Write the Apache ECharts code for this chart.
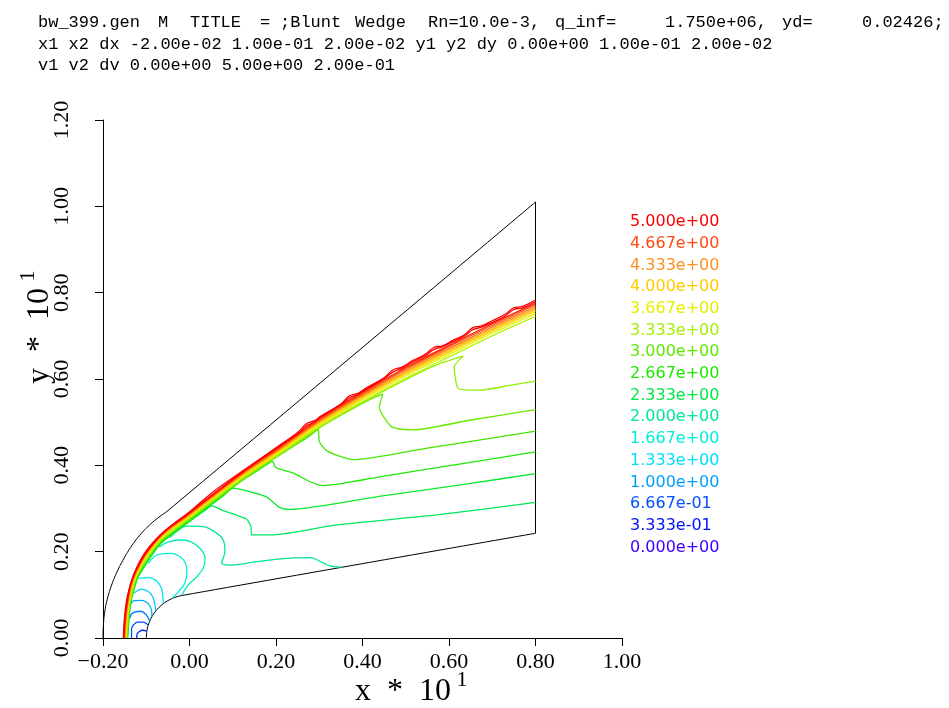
<!DOCTYPE html>
<html><head><meta charset="utf-8">
<script src="https://cdn.jsdelivr.net/npm/echarts/dist/echarts.min.js"></script>
<style>html,body{margin:0;padding:0;background:#fff;}#c{width:949px;height:708px;}</style>
</head><body><div id="c"></div>
<script>
// ---------- header text ----------
const titleLine1 = [['bw_399.gen',38],['M',158],['TITLE',190],['=',260],[';Blunt',280],['Wedge',355],['Rn=10.0e-3,',428],['q_inf=',555],['1.750e+06,',665],['yd=',782],['0.02426;',862]];
const titleLine2 = 'x1 x2 dx -2.00e-02 1.00e-01 2.00e-02 y1 y2 dy 0.00e+00 1.00e-01 2.00e-02';
const titleLine3 = 'v1 v2 dv 0.00e+00 5.00e+00 2.00e-01';

// ---------- legend (levels, top to bottom) ----------
const legendLabels = ['5.000e+00','4.667e+00','4.333e+00','4.000e+00','3.667e+00','3.333e+00','3.000e+00','2.667e+00','2.333e+00','2.000e+00','1.667e+00','1.333e+00','1.000e+00','6.667e-01','3.333e-01','0.000e+00'];
const legendColors = ['#ff0000','#ff4a10','#ff9020','#ffcc00','#e4f000','#a4f000','#60e800','#20e800','#00e848','#00e898','#00f0d8','#00e0f8','#00a0ff','#0050ff','#0010ff','#4000ff'];

// ---------- geometry (x*10, y*10) ----------
const outerBoundary = [[-0.2,0],[-0.199,0.03],[-0.196,0.06],[-0.19,0.09],[-0.181,0.12],[-0.169,0.15],[-0.154,0.18],[-0.136,0.21],[-0.115,0.238],[-0.092,0.262],[-0.068,0.282],[-0.05,0.295],[0.8,1.01]];
const exitBoundary = [[0.8,1.01],[0.8,0.2426]];
const bodySurface = [[0.8,0.2426],[-0.0174,0.0985],[-0.0342,0.094],[-0.05,0.0866],[-0.0643,0.0766],[-0.0766,0.0643],[-0.0866,0.05],[-0.094,0.0342],[-0.0985,0.0174],[-0.1,0]];

// ---------- contour lines ----------
const c50 = [[-0.153,0],[-0.150,0.05],[-0.143,0.10],[-0.128,0.15],[-0.105,0.195],[-0.075,0.232],[-0.040,0.262],[0.0,0.292],[0.05,0.335],[0.12,0.385],[0.209,0.447],[0.25,0.476],[0.27,0.496],[0.29,0.504],[0.302,0.513],[0.35,0.542],[0.37,0.561],[0.39,0.567],[0.41,0.58],[0.45,0.603],[0.47,0.621],[0.49,0.627],[0.517,0.643],[0.545,0.657],[0.565,0.673],[0.585,0.677],[0.61,0.69],[0.635,0.702],[0.655,0.719],[0.675,0.723],[0.70,0.735],[0.73,0.75],[0.75,0.765],[0.77,0.768],[0.8,0.783]];
const c48 = [[-0.152,0],[-0.145,0.08],[-0.127,0.15],[-0.074,0.231],[0.0,0.291],[0.12,0.383],[0.209,0.445],[0.25,0.472],[0.27,0.491],[0.29,0.501],[0.302,0.511],[0.35,0.541],[0.37,0.556],[0.39,0.565],[0.41,0.577],[0.45,0.601],[0.47,0.616],[0.49,0.624],[0.517,0.64],[0.545,0.654],[0.565,0.668],[0.585,0.675],[0.61,0.687],[0.635,0.699],[0.655,0.714],[0.675,0.72],[0.70,0.731],[0.73,0.746],[0.75,0.761],[0.77,0.765],[0.8,0.779]];
const c46 = [[-0.1515,0],[-0.1445,0.08],[-0.1268,0.149],[-0.074,0.2305],[0.001,0.29],[0.12,0.382],[0.209,0.443],[0.302,0.509],[0.41,0.575],[0.517,0.636],[0.61,0.683],[0.70,0.728],[0.8,0.775]];
const c44 = [[-0.151,0],[-0.144,0.08],[-0.1262,0.1488],[-0.0735,0.23],[0.0012,0.289],[0.12,0.380],[0.209,0.441],[0.302,0.506],[0.41,0.572],[0.517,0.633],[0.61,0.68],[0.70,0.7245],[0.8,0.772]];
const c42 = [[-0.150,0],[-0.143,0.08],[-0.1256,0.1484],[-0.073,0.229],[0.0016,0.288],[0.12,0.379],[0.209,0.439],[0.302,0.504],[0.41,0.569],[0.517,0.63],[0.61,0.676],[0.70,0.721],[0.8,0.768]];
const c40 = [[-0.1495,0],[-0.1425,0.08],[-0.125,0.148],[-0.0725,0.2285],[0.002,0.287],[0.12,0.377],[0.209,0.4375],[0.302,0.502],[0.41,0.5665],[0.517,0.6265],[0.61,0.673],[0.70,0.7175],[0.8,0.764]];
const c38 = [[-0.1488,0],[-0.1418,0.08],[-0.1244,0.1476],[-0.072,0.2278],[0.0024,0.286],[0.12,0.3754],[0.209,0.4356],[0.302,0.4998],[0.41,0.5638],[0.517,0.6232],[0.61,0.6696],[0.70,0.714],[0.8,0.7602]];
const c36 = [[-0.1481,0],[-0.1411,0.08],[-0.1238,0.1472],[-0.0715,0.2271],[0.0028,0.285],[0.12,0.3738],[0.209,0.4337],[0.302,0.4976],[0.41,0.5611],[0.517,0.6199],[0.61,0.6662],[0.70,0.7105],[0.8,0.7564]];
const c34 = [[-0.1472,0],[-0.1402,0.08],[-0.123,0.1467],[-0.0709,0.2262],[0.0033,0.2837],[0.12,0.3717],[0.209,0.4312],[0.302,0.4947],[0.41,0.5576],[0.517,0.6156],[0.61,0.6618],[0.70,0.706],[0.8,0.7515]];
const c32 = [[-0.146,0],[-0.139,0.08],[-0.122,0.146],[-0.07,0.225],[0.004,0.282],[0.12,0.369],[0.209,0.428],[0.302,0.491],[0.41,0.553],[0.517,0.61],[0.61,0.656],[0.70,0.70],[0.8,0.745]];
const c30 = [[-0.1455,0],[-0.1385,0.08],[-0.1215,0.145],[-0.0695,0.223],[0.0045,0.28],[0.12,0.367],[0.209,0.426],[0.302,0.489],[0.41,0.551],[0.517,0.607],[0.58,0.636],[0.633,0.653],[0.612,0.628],[0.622,0.578],[0.672,0.574],[0.74,0.585],[0.8,0.595]];
const c28 = [[-0.145,0],[-0.138,0.08],[-0.121,0.144],[-0.069,0.222],[0.005,0.279],[0.12,0.366],[0.209,0.425],[0.302,0.488],[0.37,0.527],[0.425,0.556],[0.447,0.565],[0.439,0.534],[0.468,0.489],[0.517,0.482],[0.65,0.505],[0.8,0.529]];
const c26 = [[-0.1445,0],[-0.1375,0.08],[-0.1205,0.143],[-0.0685,0.221],[0.0055,0.278],[0.12,0.365],[0.209,0.424],[0.27,0.463],[0.298,0.482],[0.300,0.455],[0.317,0.434],[0.35,0.42],[0.379,0.413],[0.55,0.44],[0.8,0.479]];
const c24 = [[-0.144,0],[-0.137,0.08],[-0.12,0.142],[-0.068,0.22],[0.006,0.277],[0.12,0.364],[0.17,0.396],[0.192,0.409],[0.199,0.395],[0.24,0.382],[0.279,0.362],[0.309,0.353],[0.45,0.375],[0.65,0.407],[0.8,0.431]];
const c22 = [[-0.1435,0],[-0.1365,0.08],[-0.1195,0.141],[-0.0675,0.219],[0.0065,0.276],[0.08,0.331],[0.101,0.347],[0.132,0.341],[0.178,0.327],[0.209,0.302],[0.232,0.298],[0.45,0.33],[0.65,0.358],[0.8,0.381]];
const c20 = [[-0.143,0],[-0.136,0.08],[-0.119,0.14],[-0.067,0.218],[0.007,0.275],[0.035,0.295],[0.051,0.306],[0.078,0.295],[0.132,0.275],[0.142,0.258],[0.144,0.239],[0.194,0.239],[0.34,0.262],[0.572,0.285],[0.8,0.314]];
const c18 = [[-0.045,0.233],[-0.025,0.25],[-0.007,0.259],[0.032,0.258],[0.063,0.243],[0.078,0.227],[0.082,0.2],[0.074,0.173],[0.094,0.169],[0.155,0.177],[0.232,0.185],[0.279,0.186],[0.309,0.174],[0.325,0.167],[0.352,0.164]];
const c16 = [[-0.07,0.211],[-0.05,0.222],[-0.022,0.227],[0.001,0.224],[0.024,0.208],[0.036,0.185],[0.032,0.162],[0.017,0.142],[-0.003,0.123],[-0.018,0.099]];
const c14 = [[-0.095,0.173],[-0.08,0.19],[-0.064,0.195],[-0.041,0.196],[-0.014,0.181],[-0.006,0.154],[-0.011,0.127],[-0.025,0.108],[-0.04,0.092]];
const c12 = [[-0.117,0.138],[-0.095,0.14],[-0.076,0.132],[-0.064,0.113],[-0.062,0.096],[-0.06,0.08]];
const c10 = [[-0.128,0.104],[-0.111,0.113],[-0.093,0.106],[-0.084,0.093],[-0.08,0.077],[-0.078,0.063]];
const c08 = [[-0.135,0.078],[-0.13,0.086],[-0.111,0.087],[-0.095,0.079],[-0.088,0.065],[-0.087,0.049]];
const c06 = [[-0.138,0.046],[-0.133,0.057],[-0.114,0.062],[-0.1,0.054],[-0.092,0.039]];
const c04 = [[-0.134,0],[-0.134,0.02],[-0.13,0.03],[-0.12,0.037],[-0.107,0.037],[-0.0955,0.03]];
const c02 = [[-0.122,0],[-0.121,0.009],[-0.116,0.015],[-0.108,0.018],[-0.0987,0.016]];

const contourLevels = [5.0,4.8,4.6,4.4,4.2,4.0,3.8,3.6,3.4,3.2,3.0,2.8,2.6,2.4,2.2,2.0,1.8,1.6,1.4,1.2,1.0,0.8,0.6,0.4,0.2];
const contourLines = [c50,c48,c46,c44,c42,c40,c38,c36,c34,c32,c30,c28,c26,c24,c22,c20,c18,c16,c14,c12,c10,c08,c06,c04,c02];

// ---------- colour map built from the legend colours ----------
const ascColors = legendColors.slice().reverse();
function hex2rgb(h){return [parseInt(h.substr(1,2),16),parseInt(h.substr(3,2),16),parseInt(h.substr(5,2),16)];}
function levelColor(v){
  const t = Math.max(0, Math.min(15, (v + 0.25)/(5/15)));
  const i = Math.min(14, Math.floor(t));
  const f = Math.min(1, t - i);
  const a = hex2rgb(ascColors[i]), b = hex2rgb(ascColors[i+1]);
  const c = a.map((q,k)=>Math.round(q+(b[k]-q)*f));
  return 'rgb('+c.join(',')+')';
}

const series = [];
contourLevels.forEach((lv,i)=>{
  const sm = lv >= 3.2 ? 0.4 : (lv >= 2.0 ? 0.2 : 0.3);
  series.push({type:'line', data: contourLines[i], showSymbol:false, symbol:'none', smooth:sm, animation:false, silent:true,
    lineStyle:{color: levelColor(lv), width:1.3}, z: 3 + (25-i)*0.01});
});
series.push({type:'line', data:outerBoundary, showSymbol:false, symbol:'none', smooth:0.5, animation:false, silent:true, lineStyle:{color:'#000', width:1}, z:2});
series.push({type:'line', data:exitBoundary, showSymbol:false, symbol:'none', animation:false, silent:true, lineStyle:{color:'#000', width:1}, z:2});
series.push({type:'line', data:bodySurface, showSymbol:false, symbol:'none', smooth:0.3, animation:false, silent:true, lineStyle:{color:'#000', width:1}, z:2});

// ---------- graphic text ----------
const graphic = [];
const monoFont = 'Liberation Mono';
function txt(t,x,y,font,color,align,rot){
  const g = {type:'text', x:x, y:y, silent:true, style:{text:t, fill:color, font:font, textAlign:align, textVerticalAlign:'middle', align:align, verticalAlign:'middle'}};
  if (rot) g.rotation = rot;
  return g;
}
titleLine1.forEach(([t,x])=>graphic.push(txt(t,x,22,'17px "'+monoFont+'"','#000','left')));
graphic.push(txt(titleLine2,38,44,'17px "'+monoFont+'"','#000','left'));
graphic.push(txt(titleLine3,38,65,'17px "'+monoFont+'"','#000','left'));
legendLabels.forEach((t,i)=>graphic.push(txt(t,630,222+i*21.7,'16px "DejaVu Sans"',legendColors[i],'left')));
graphic.push(txt('x  *  10',403,692,'32px "Liberation Serif"','#000','center'));
graphic.push(txt('1',462,680,'22px "Liberation Serif"','#000','center'));
graphic.push(txt('y  *  10',40,336,'32px "Liberation Serif"','#000','center',Math.PI/2));
graphic.push(txt('1',28,276,'22px "Liberation Serif"','#000','center',Math.PI/2));

const fmt = v => (v<0?'\u2212':'') + Math.abs(v).toFixed(2);
const chart = echarts.init(document.getElementById('c'), null, {renderer:'canvas'});
chart.setOption({
  animation:false,
  backgroundColor:'#fff',
  grid:{left:103, top:120, width:519, height:518, containLabel:false},
  xAxis:{type:'value', min:-0.2, max:1.0, interval:0.2,
    axisLine:{show:true, onZero:false, lineStyle:{color:'#000', width:1}},
    axisTick:{show:true, length:8, lineStyle:{color:'#000', width:1}},
    axisLabel:{formatter:fmt, fontFamily:'Liberation Serif', fontSize:22, color:'#000', margin:13},
    splitLine:{show:false}},
  yAxis:{type:'value', min:0, max:1.2, interval:0.2,
    axisLine:{show:true, onZero:false, lineStyle:{color:'#000', width:1}},
    axisTick:{show:true, length:8, lineStyle:{color:'#000', width:1}},
    axisLabel:{formatter:fmt, fontFamily:'Liberation Serif', fontSize:22, color:'#000', margin:30, rotate:90},
    splitLine:{show:false}},
  series: series,
  graphic: graphic
});
</script></body></html>
